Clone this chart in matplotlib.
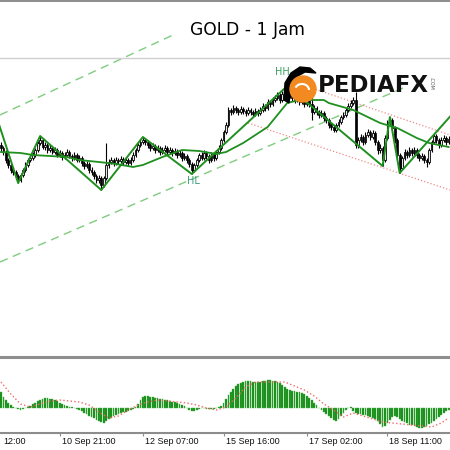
import numpy as np
import matplotlib.pyplot as plt
from matplotlib import transforms
from matplotlib.patches import Circle, Polygon, Arc

# GOLD H1 candles, price in points above a base level (1 pt = 0.2 $)
first_open = 105
close = [102, 98, 90, 85, 80, 78, 74, 70, 75, 80,
         85, 90, 92, 95, 100, 107, 110, 103, 105, 100,
         102, 98, 100, 95, 97, 93, 95, 98, 94, 92,
         95, 90, 92, 87, 84, 86, 80, 78, 74, 70,
         72, 65, 72, 85, 88, 90, 87, 90, 89, 91,
         88, 90, 87, 90, 95, 100, 105, 108, 110, 108,
         105, 102, 104, 100, 102, 98, 100, 102, 98, 100,
         97, 99, 95, 97, 92, 94, 90, 86, 80, 85,
         90, 95, 92, 97, 94, 90, 95, 92, 98, 102,
         110, 118, 125, 140, 138, 142, 140, 138, 141, 139,
         137, 140, 138, 136, 139, 137, 140, 144, 142, 148,
         146, 150, 152, 155, 150, 156, 158, 160, 155, 152,
         150, 153, 148, 150, 146, 150, 146, 138, 142, 138,
         135, 137, 132, 130, 125, 123, 120, 125, 128, 133,
         135, 140, 144, 147, 150, 105, 110, 113, 108, 115,
         118, 113, 117, 108, 100, 102, 90, 112, 128, 130,
         122, 110, 95, 82, 92, 98, 95, 100, 97, 100,
         95, 92, 94, 90, 88, 100, 108, 114, 110, 105,
         110, 112, 108, 111]
high = [108, 104, 100, 92, 87, 83, 80, 76, 77, 82,
        88, 92, 95, 98, 102, 109, 114, 112, 108, 107,
        105, 104, 103, 102, 100, 99, 98, 101, 100, 96,
        98, 97, 95, 94, 89, 89, 88, 83, 80, 76,
        75, 74, 74, 107, 91, 93, 92, 93, 92, 94,
        93, 93, 92, 93, 98, 102, 107, 111, 113, 112,
        110, 107, 107, 106, 105, 104, 103, 105, 104, 103,
        102, 102, 101, 100, 99, 97, 96, 92, 88, 87,
        92, 97, 98, 100, 99, 96, 98, 97, 100, 105,
        112, 120, 128, 143, 142, 145, 144, 142, 144, 143,
        141, 143, 142, 140, 142, 141, 143, 147, 146, 151,
        150, 153, 155, 158, 157, 159, 161, 164, 162, 157,
        154, 156, 155, 153, 152, 153, 152, 153, 145, 144,
        140, 140, 139, 134, 132, 127, 125, 127, 131, 135,
        138, 142, 147, 150, 153, 158, 113, 116, 115, 118,
        121, 120, 120, 119, 110, 106, 104, 115, 130, 133,
        132, 124, 112, 97, 94, 101, 100, 103, 102, 103,
        102, 97, 97, 96, 92, 102, 110, 117, 116, 112,
        113, 115, 114, 114]
low = [99, 95, 87, 82, 77, 75, 71, 67, 68, 73,
       78, 83, 88, 90, 93, 98, 105, 101, 100, 97,
       98, 96, 96, 93, 93, 90, 91, 93, 92, 89,
       90, 88, 88, 84, 81, 82, 77, 75, 71, 67,
       67, 60, 63, 70, 82, 86, 84, 85, 86, 87,
       85, 86, 84, 85, 88, 93, 98, 103, 106, 105,
       102, 99, 100, 97, 98, 95, 96, 98, 95, 96,
       94, 95, 92, 93, 89, 90, 87, 83, 76, 78,
       83, 88, 90, 90, 91, 87, 88, 89, 90, 96,
       100, 108, 116, 123, 135, 136, 137, 135, 136, 136,
       134, 135, 135, 133, 134, 134, 135, 138, 139, 140,
       143, 144, 148, 150, 147, 148, 154, 156, 152, 149,
       147, 148, 145, 146, 143, 144, 143, 130, 136, 135,
       132, 133, 129, 127, 122, 120, 118, 118, 123, 126,
       131, 133, 138, 142, 145, 102, 102, 108, 105, 106,
       113, 110, 111, 105, 96, 97, 84, 88, 110, 125,
       119, 107, 92, 77, 80, 90, 92, 93, 94, 95,
       92, 89, 90, 87, 83, 86, 98, 106, 107, 102,
       103, 108, 105, 106]

# OsMA histogram and its signal line
osma = [16, 11, 8, 5, 3, 1, 0, -1, -2, -1,
        0, 1, 2, 4, 5, 7, 8, 9, 10, 10,
        9, 9, 8, 7, 5, 4, 3, 2, 1, 1,
        0, -1, -2, -3, -5, -6, -8, -9, -10, -12,
        -13, -14, -15, -13, -11, -10, -8, -7, -6, -5,
        -4, -4, -3, -2, -1, 1, 4, 8, 11, 12,
        12, 11, 11, 10, 10, 9, 9, 8, 8, 7,
        6, 6, 5, 4, 3, 2, 0, -2, -3, -3,
        -2, -1, 0, 0, -1, -1, -1, -1, 0, 1,
        2, 5, 9, 13, 16, 19, 22, 24, 25, 26,
        27, 27, 27, 26, 26, 26, 26, 27, 27, 28,
        28, 27, 27, 26, 25, 23, 21, 19, 18, 17,
        17, 16, 16, 15, 14, 12, 10, 8, 5, 3,
        0, -2, -4, -6, -8, -10, -12, -13, -11, -8,
        -5, -2, 0, 1, -3, -5, -6, -6, -7, -7,
        -8, -9, -10, -11, -13, -16, -19, -18, -15, -12,
        -9, -8, -9, -11, -13, -14, -15, -17, -17, -18,
        -19, -20, -20, -19, -18, -16, -15, -13, -11, -9,
        -7, -5, -3, -2]
sig_bars = [0, 4, 8, 12, 16, 20, 24, 28, 32, 36, 40, 44, 48, 52, 56, 60,
            64, 68, 72, 76, 80, 84, 88, 92, 96, 100, 104, 108, 112, 116, 120,
            124, 128, 132, 136, 140, 144, 148, 152, 156, 160, 164, 168, 172,
            176, 180, 183]
signal = [26, 14, 4, 1, 4, 7, 8, 7, 6, 3, -4, -10, -8, -2, 3, 6,
          8, 7, 6, 5, 3, 0, -2, 1, 10, 21, 26, 26, 26, 26, 22,
          18, 12, 4, -2, -9, -5, -8, -11, -14, -15, -16, -17, -18,
          -19, -15, -10]

# zigzag pivots and moving average
zz_bars = [-3, 7, 16, 41, 58, 78, 117, 156, 159, 163, 190]
zz_vals = [142, 67, 114, 60, 113, 76, 164, 84, 133, 77, 151]
ma_bars = [0, 8, 13, 20, 27, 32, 40, 47, 54, 58, 61, 66, 74, 81, 88, 92,
           99, 109, 117, 122, 132, 134, 144, 155, 162, 170, 175, 183]
ma_vals = [98, 97, 95, 94, 93, 90, 88, 86, 83, 85, 88, 93, 100, 99, 96, 98,
           107, 123, 147, 150, 150, 147, 140, 127, 122, 112, 107, 103]

# drawn channels: (bar, price) endpoints
green_upper = ([-0.4, 70.3], [135, 215])
green_lower = ([-0.4, 164.4], [-12, 162])
red_upper = ([122.2, 183.6], [166, 115])
red_lower = ([101.0, 183.6], [127, 60])
level_line = 192

# time axis: tick bars and the label text seen at each (first one is cut by the edge)
tick_bars = [-10, 24, 58, 91, 125, 158]
label_bars = [0, 24, 58, 91, 125, 158]
tick_labels = ['12:00', '10 Sep 21:00', '12 Sep 07:00',
               '15 Sep 16:00', '17 Sep 02:00', '18 Sep 11:00']

fig = plt.figure(figsize=(4.5, 4.5), dpi=100)
xlim = (-0.41, 183.56)

# main price window
ax = fig.add_axes([0, 1 - 355 / 450, 1, 355 / 450])
ax.set_xlim(xlim)
ax.set_ylim(-105, 250)
ax.set_axis_off()

c = np.array(close, dtype=float)
o = np.r_[first_open, c[:-1]]
x = np.arange(len(c))
up = c >= o
ax.vlines(x, low, high, color='black', lw=0.8, zorder=2)
ax.bar(x[up], (c - o)[up], bottom=o[up], width=0.7, color='#e8e8e8',
       edgecolor='black', lw=0.6, zorder=3)
ax.bar(x[~up], (c - o)[~up], bottom=o[~up], width=0.7, color='black',
       edgecolor='black', lw=0.5, zorder=3)

ax.axhline(level_line, color='#cfcfcf', lw=1)
ax.axhline(249, color='#8c8c8c', lw=1.4)
for pts in (green_upper, green_lower):
    ax.plot(pts[0], pts[1], color='#7fcc7f', lw=1, dashes=(6, 4), zorder=1)
for pts in (red_upper, red_lower):
    ax.plot(pts[0], pts[1], color='#f08a8a', lw=0.9, ls=':', zorder=1)

ax.plot(ma_bars, ma_vals, color='#1f8f1f', lw=1.3, zorder=4)
ax.plot(zz_bars, zz_vals, color='#1f8f1f', lw=1.4, zorder=4)
ax.text(78.5, 69, 'HL', color='#3a9e7a', fontsize=7, ha='center', va='center', zorder=5)

# oscillator window
ax2 = fig.add_axes([0, 1 - 433 / 450, 1, 75 / 450])
ax2.set_xlim(xlim)
ax2.set_ylim(-25, 50)
ax2.bar(x, osma, width=0.72, color='#118a11', edgecolor='#4fb04f', lw=0.3)
ax2.plot(sig_bars, signal, color='#f06a6a', lw=1, ls=':')
for s in ['top', 'left', 'right']:
    ax2.spines[s].set_visible(False)
ax2.spines['bottom'].set_color('#8c8c8c')
ax2.spines['bottom'].set_linewidth(1.5)
ax2.set_yticks([])
ax2.set_xticks([b for b in tick_bars if b >= 0])
ax2.tick_params(axis='x', direction='out', length=2.5, color='#8c8c8c',
                labelbottom=False)
trans = transforms.offset_copy(ax2.get_xaxis_transform(), fig=fig,
                               x=2, y=-4, units='dots')
for b, lab in zip(label_bars, tick_labels):
    ax2.text(b, 0, lab, transform=trans, ha='left', va='top', fontsize=6.5,
             family='Liberation Sans', color='#111111', clip_on=False)

# separator between windows
fig.add_artist(plt.Line2D([0, 1], [1 - 356.5 / 450] * 2, color='#8e8e8e', lw=2.2))

# overlay: title and watermark logo, in pixel coordinates
ov = fig.add_axes([0, 0, 1, 1], zorder=5)
ov.set_xlim(0, 450)
ov.set_ylim(450, 0)
ov.set_axis_off()
ov.patch.set_alpha(0)
ov.text(247, 30, 'GOLD - 1 Jam', fontsize=12.3, ha='center', va='center', color='black')
ov.add_patch(Polygon([(284, 100), (285, 83), (291, 73), (300, 67), (310, 68),
                      (316, 73), (305, 72), (296, 77), (291, 87), (289, 103)],
                     closed=True, color='black'))
ov.add_patch(Circle((303, 89), 13, color='#f28a21'))
ov.add_patch(Arc((302, 90), 14, 12, theta1=200, theta2=360, color='white', lw=1.5))
ov.text(282, 72, 'HH', color='#3a9e5e', fontsize=7, ha='center', va='center')
ov.text(318, 85, 'PEDIAFX', fontsize=16.5, weight='bold', ha='left', va='center',
        color='#111111')
ov.text(431, 83, '.COM', fontsize=3.5, rotation=270, ha='center', va='center',
        color='#555555')

fig.savefig('out.png', dpi=100)
